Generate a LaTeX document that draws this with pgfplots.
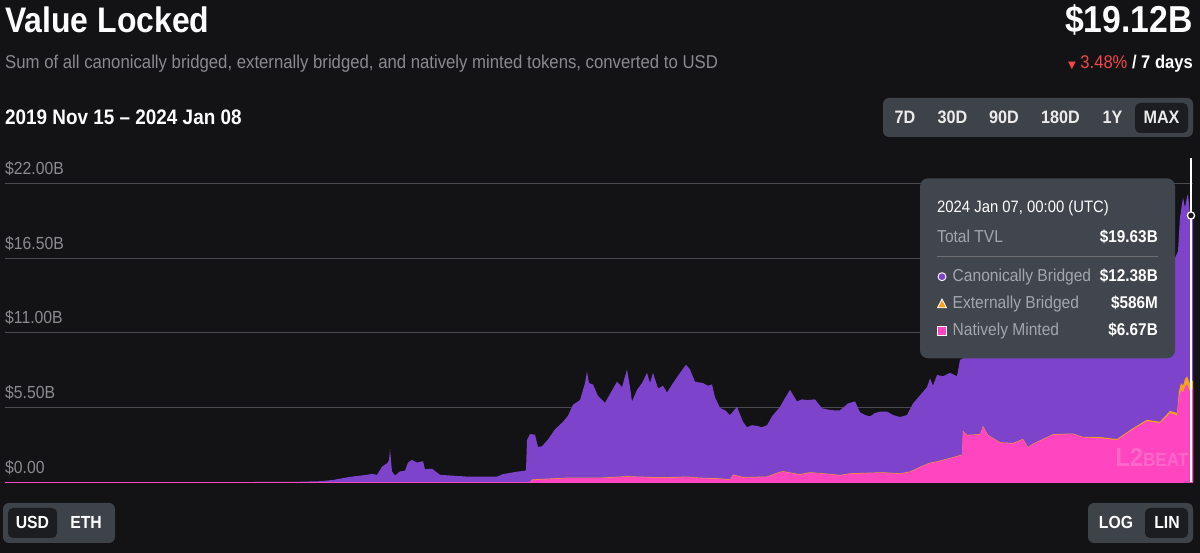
\documentclass[border=0pt]{standalone}
\usepackage{pgfplots}
\pgfplotsset{compat=1.18}
\usepackage{fontspec}
\setmainfont{Liberation Sans}[FakeStretch=0.9]
\newfontfamily\symfont{DejaVu Sans}
\definecolor{bgc}{HTML}{131316}
\definecolor{gridc}{HTML}{4A4A50}
\definecolor{tickc}{HTML}{8C8C90}
\definecolor{subc}{HTML}{8A8A8F}
\definecolor{purp}{HTML}{7E43CB}
\definecolor{pinkc}{HTML}{FF46C0}
\definecolor{orc}{HTML}{F7A21B}
\definecolor{redc}{HTML}{F0474A}
\definecolor{tipc}{HTML}{41464E}
\definecolor{tiptext}{HTML}{A3A6AC}
\definecolor{btnc}{HTML}{3E4249}
\definecolor{selc}{HTML}{1C1D21}
\begin{document}
\begin{tikzpicture}[x=1pt,y=1pt]
\useasboundingbox (0,0) rectangle (1200,553);
\fill[bgc] (0,0) rectangle (1200,553);
% header
\node[anchor=base west, inner sep=0, text=white] at (5,520) {\fontsize{35.5}{38}\selectfont\bfseries Value Locked};
\node[anchor=base east, inner sep=0, text=white] at (1193,520) {\fontsize{37.5}{40}\selectfont\bfseries \$19.12B};
\node[anchor=base west, inner sep=0, text=subc] at (5,484) {\fontsize{18.6}{20}\selectfont Sum of all canonically bridged, externally bridged, and natively minted tokens, converted to USD};
\node[anchor=base east, inner sep=0, text=white] at (1193,484) {\fontsize{18.4}{20}\selectfont {\color{redc}{\symfont\fontsize{10}{10}\selectfont ▼}\ 3.48\%} \textbf{/ 7 days}};
\node[anchor=base west, inner sep=0, text=white] at (5,428) {\fontsize{21}{23}\selectfont\bfseries 2019 Nov 15 – 2024 Jan 08};
% range buttons
\fill[btnc, rounded corners=6pt] (883,416) rectangle (1193,455);
\fill[selc, rounded corners=5pt] (1135,420) rectangle (1188,450);
\foreach \xx/\lab in {905/7D, 952.5/30D, 1004/90D, 1060.5/180D, 1112.5/1Y, 1161.5/MAX}
  \node[anchor=base, inner sep=0, text=white!92!black] at (\xx,429) {\fontsize{18}{20}\selectfont\bfseries \lab};
% bottom buttons
\fill[btnc, rounded corners=6pt] (3,10) rectangle (115,50);
\fill[selc, rounded corners=5pt] (8,15) rectangle (57,45);
\node[anchor=base, inner sep=0, text=white] at (32.5,24) {\fontsize{17.5}{19}\selectfont\bfseries USD};
\node[anchor=base, inner sep=0, text=white] at (86,24) {\fontsize{17.5}{19}\selectfont\bfseries ETH};
\fill[btnc, rounded corners=6pt] (1088,10) rectangle (1193,50);
\fill[selc, rounded corners=5pt] (1145,15) rectangle (1188,45);
\node[anchor=base, inner sep=0, text=white] at (1116,24) {\fontsize{17.5}{19}\selectfont\bfseries LOG};
\node[anchor=base, inner sep=0, text=white] at (1167,24) {\fontsize{17.5}{19}\selectfont\bfseries LIN};
\begin{axis}[
  at={(5pt,70.7pt)}, anchor=south west, scale only axis,
  width=1188pt, height=299pt,
  xmin=5, xmax=1193, ymin=0, ymax=22,
  axis line style={draw=none}, clip=false,
  xtick=\empty,
  ytick={0,5.5,11,16.5,22},
  yticklabels={\$0.00,\$5.50B,\$11.00B,\$16.50B,\$22.00B},
  ymajorgrids, major grid style={color=gridc, line width=0.9pt},
  major tick length=0pt,
  yticklabel style={anchor=base west, inner sep=0pt, yshift=9pt, text=tickc, font=\fontsize{17.5}{19}\selectfont},
]
% total value locked (top of the stack)
\addplot[fill=purp, draw=none] coordinates {
(5,0) (100,0.005) (200,0.01) (250,0.02) (300,0.04) (320,0.08) (333,0.17) (350,0.4) (367,0.55) (372,0.62) (377,0.55)
(382,1.15) (387,1.4) (389,1.6) (390,2.45) (391,1.6) (392,0.8) (395,0.5) (400,0.8) (405,0.85)
(408,1.45) (412,1.65) (417,1.45) (420,1.5) (423,1.55) (425,0.95) (432,1.0) (440,0.55) (450,0.5)
(467,0.42) (483,0.42) (497,0.42) (503,0.6) (517,0.78) (525,0.85) (526,0.9) (527,3.1) (530,3.55)
(535,3.5) (538,2.6) (542,2.65) (548,3.15) (555,3.9) (563,4.45) (568,4.9) (573,5.7) (580,6.05) (585,7.3)
(587,8.15) (589,7.3) (593,7.2) (598,6.35) (605,5.85) (610,6.5) (617,7.4) (622,7.0) (627,8.3)
(630,7.0) (632,5.95) (637,6.8) (642,7.3) (647,8.05) (650,7.3) (653,8.05) (658,6.9) (663,7.1) (667,6.6)
(673,7.3) (680,8.05) (686,8.65) (690,8.3) (695,7.4) (703,7.3) (708,7.1) (712,7.2) (715,6.25) (720,5.48)
(725,5.3) (730,4.95) (737,5.55) (743,4.45) (747,4.05) (752,4.2) (757,4.15) (762,4.05) (767,4.2) (772,4.85)
(780,5.55) (785,6.2) (790,6.8) (797,5.95) (802,6.1) (807,6.05) (815,6.1) (822,5.45) (828,5.35) (833,5.3)
(840,5.3) (848,5.8) (855,5.95) (860,5.15) (865,4.95) (870,4.85) (875,5.1) (880,5.2) (887,5.2) (893,4.95)
(900,4.8) (907,4.95) (913,5.8) (920,6.4) (927,7.0) (930,7.65) (933,7.1) (937,7.9) (943,7.8) (950,8.05)
(957,7.8) (960,9.0) (975,9.6) (1000,10.3) (1030,10.8) (1060,11.2) (1090,11.8) (1120,12.6)
(1145,13.8) (1165,15.2) (1175,16.5) (1178,17.0) (1180,19.5) (1183,20.95) (1185,20.2) (1187,21.0)
(1188,21.2) (1190,19.7) (1193,19.3)
} \closedcycle;
% natively minted + externally bridged
\addplot[fill=orc, draw=none] coordinates {
(5,0) (530,0) (532,0.21) (540,0.24) (567,0.34) (600,0.34) (627,0.45) (650,0.39) (667,0.37) (687,0.42)
(700,0.34) (720,0.29) (730,0.21) (733,0.57) (743,0.39) (767,0.42) (777,0.7) (783,0.82) (800,0.59)
(810,0.74) (827,0.64) (840,0.54) (850,0.66) (867,0.7) (883,0.74) (900,0.66) (910,0.79) (920,1.14)
(930,1.44) (937,1.54) (950,1.79) (962,2.04) (963,3.79) (967,3.49) (980,3.54) (983,4.14) (988,3.49)
(1000,2.94) (1013,2.89) (1023,3.19) (1028,2.59) (1033,2.84) (1053,3.54) (1073,3.59) (1083,3.34)
(1100,3.33) (1117,3.18) (1133,3.98) (1147,4.6) (1160,4.45) (1170,5.25) (1177,5.1) (1179,6.7)
(1181,7.3) (1183,7.1) (1185,7.6) (1187,7.8) (1190,7.26) (1193,7.5)
} \closedcycle;
% natively minted
\addplot[fill=pinkc, draw=none] coordinates {
(5,0) (530,0) (532,0.17) (540,0.2) (567,0.3) (600,0.3) (627,0.41) (650,0.35) (667,0.33) (687,0.38)
(700,0.3) (720,0.25) (730,0.17) (733,0.53) (743,0.35) (767,0.38) (777,0.66) (783,0.78) (800,0.55)
(810,0.7) (827,0.6) (840,0.5) (850,0.62) (867,0.66) (883,0.7) (900,0.62) (910,0.75) (920,1.1)
(930,1.4) (937,1.5) (950,1.75) (962,2.0) (963,3.75) (967,3.45) (980,3.5) (983,4.1) (988,3.45)
(1000,2.9) (1013,2.85) (1023,3.15) (1028,2.55) (1033,2.8) (1053,3.5) (1073,3.55) (1083,3.3)
(1100,3.25) (1117,3.1) (1133,3.9) (1147,4.5) (1160,4.35) (1170,5.1) (1177,4.9) (1179,6.3)
(1181,6.8) (1183,6.6) (1185,7.0) (1187,7.2) (1190,6.67) (1193,6.9)
} \closedcycle;
\addplot[pinkc, line width=1.2pt] coordinates {(5,0) (1193,0)};
% hover line and point
\draw[white, line width=1.6pt] (axis cs:1191,0) -- (axis cs:1191,23.86);
\addplot[only marks, mark=*, mark size=3.6pt, mark options={draw=white, fill=bgc, line width=1.3pt}] coordinates {(1191,19.63)};
\end{axis}
% watermark
\node[anchor=base, inner sep=0, text=white, opacity=0.18] at (1152,86) {\fontsize{26}{28}\selectfont\bfseries L2\fontsize{19}{21}\selectfont BEAT};
% tooltip
\fill[tipc, rounded corners=8pt] (920,194.7) rectangle (1175,374.7);
\node[anchor=base west, inner sep=0, text=white] at (937,340.3) {\fontsize{16.5}{18}\selectfont 2024 Jan 07, 00:00 (UTC)};
\node[anchor=base west, inner sep=0, text=tiptext] at (937,310.3) {\fontsize{17.3}{19}\selectfont Total TVL};
\node[anchor=base east, inner sep=0, text=white] at (1158,310.3) {\fontsize{17}{19}\selectfont\bfseries \$19.63B};
\draw[gridc!80!white, line width=0.8pt] (937,296.3) -- (1158,296.3);
\filldraw[fill=purp, draw=white, line width=0.9pt] (942,276.3) circle (4pt);
\node[anchor=base west, inner sep=0, text=tiptext] at (952.5,271.3) {\fontsize{17.3}{19}\selectfont Canonically Bridged};
\node[anchor=base east, inner sep=0, text=white] at (1158,271.3) {\fontsize{17}{19}\selectfont\bfseries \$12.38B};
\filldraw[fill=orc, draw=white, line width=0.8pt] (937.5,245.2) -- (946.5,245.2) -- (942,254) -- cycle;
\node[anchor=base west, inner sep=0, text=tiptext] at (952.5,244.7) {\fontsize{17.3}{19}\selectfont Externally Bridged};
\node[anchor=base east, inner sep=0, text=white] at (1158,244.7) {\fontsize{17}{19}\selectfont\bfseries \$586M};
\filldraw[fill=pinkc, draw=white, line width=0.8pt] (937.5,217.5) rectangle (946.5,226.5);
\node[anchor=base west, inner sep=0, text=tiptext] at (952.5,217) {\fontsize{17.3}{19}\selectfont Natively Minted};
\node[anchor=base east, inner sep=0, text=white] at (1158,217) {\fontsize{17}{19}\selectfont\bfseries \$6.67B};
\end{tikzpicture}
\end{document}
